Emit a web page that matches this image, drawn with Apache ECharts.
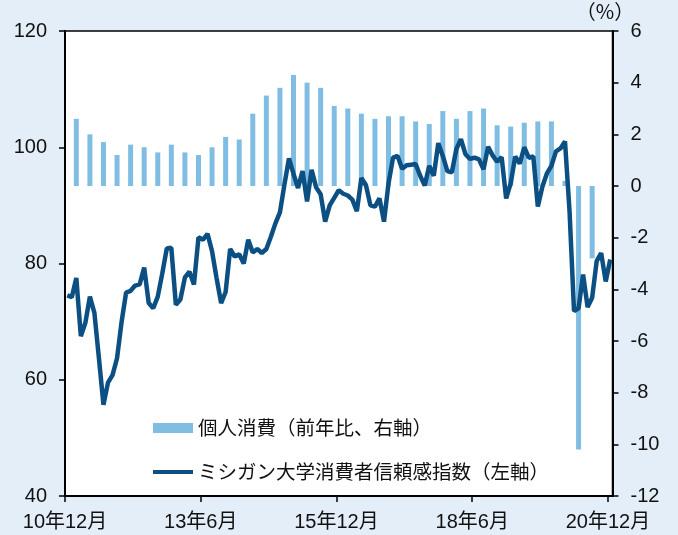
<!DOCTYPE html>
<html>
<head>
<meta charset="utf-8">
<script src="https://cdn.jsdelivr.net/npm/echarts@6/dist/echarts.min.js"></script>
<style>
    html, body { margin: 0; padding: 0; background: #e3eef8; }
    #chart { width: 678px; height: 535px; }
</style>
</head>
<body>
<div id="chart"></div>
<script>
// ミシガン大学消費者信頼感指数 (月次, 10年12月〜20年12月)
var sentiment = [
    74.5,
    74.2, 77.5, 67.5, 69.8, 74.3, 71.5, 63.7, 55.7, 59.5, 60.8, 63.7, 69.9,
    75.0, 75.3, 76.2, 76.4, 79.3, 73.2, 72.3, 74.3, 78.3, 82.6, 82.7, 72.9,
    73.8, 77.6, 78.6, 76.4, 84.5, 84.1, 85.1, 82.1, 77.5, 73.2, 75.1, 82.5,
    81.2, 81.6, 80.0, 84.1, 81.9, 82.5, 81.8, 82.5, 84.6, 86.9, 88.8, 93.6,
    98.1, 95.4, 93.0, 95.9, 90.7, 96.1, 93.1, 91.9, 87.2, 90.0, 91.3, 92.6,
    92.0, 91.7, 91.0, 89.0, 94.7, 93.5, 90.0, 89.8, 91.2, 87.2, 93.8, 98.2,
    98.5, 96.3, 96.9, 97.0, 97.1, 95.1, 93.4, 96.8, 95.1, 100.7, 98.5, 95.9,
    95.7, 99.7, 101.4, 98.8, 98.0, 98.2, 97.9, 96.2, 100.1, 98.6, 97.5, 98.3,
    91.2, 93.8, 98.4, 97.2, 100.0, 98.2, 98.4, 89.8, 93.2, 95.5, 96.8, 99.3,
    99.8, 101.0, 89.1, 71.8, 72.3, 78.1, 72.5, 74.1, 80.4, 81.8, 76.9, 80.7
];

// 個人消費 前年比 (四半期, 11年1-3月〜20年7-9月)
var consumption = [
    2.6, 2.0, 1.7, 1.2,
    1.6, 1.5, 1.3, 1.6,
    1.3, 1.2, 1.5, 1.9,
    1.8, 2.8, 3.5, 3.8,
    4.3, 4.0, 3.8, 3.1,
    3.0, 2.8, 2.6, 2.7,
    2.7, 2.5, 2.4, 2.9,
    2.6, 2.9, 3.0, 2.35,
    2.3, 2.45, 2.5, 2.5,
    0.2, -10.2, -2.8
];

var tickLabels = ['10年12月', '13年6月', '15年12月', '18年6月', '20年12月'];
var tickMonths = [0, 30, 60, 90, 120];

var barName = '個人消費（前年比、右軸）';
var lineName = 'ミシガン大学消費者信頼感指数（左軸）';

var lineData = sentiment.map(function (v, i) { return [i + 0.5, v]; });
var barData = consumption.map(function (v, q) { return [q * 3 + 2.5, v]; });

var chart = echarts.init(document.getElementById('chart'));
var labelFont = { color: '#111', fontSize: 20, fontFamily: 'Liberation Sans, Noto Sans CJK JP' };
var legendFont = { color: '#111', fontSize: 19.5, lineHeight: 22, fontFamily: 'Noto Sans CJK JP' };

chart.setOption({
    backgroundColor: '#e3eef8',
    animation: false,
    grid: {
        left: 65, right: 65.5, top: 31, bottom: 39,
        show: true,
        backgroundColor: '#fff',
        borderColor: '#000',
        borderWidth: 1.5
    },
    legend: [{
        data: [barName],
        left: 153, top: 417,
        padding: 0,
        icon: 'rect',
        itemWidth: 40, itemHeight: 10,
        textStyle: legendFont
    }, {
        data: [lineName],
        left: 153, top: 461,
        padding: 0,
        icon: 'rect',
        itemWidth: 40, itemHeight: 4,
        textStyle: legendFont
    }],
    xAxis: {
        type: 'value',
        min: 0, max: 121, interval: 30,
        splitLine: { show: false },
        axisLine: { onZero: false, lineStyle: { color: '#000', width: 2 } },
        axisTick: { length: 6, lineStyle: { color: '#000', width: 1.5 }, customValues: tickMonths },
        axisLabel: Object.assign({
            margin: 16,
            customValues: tickMonths,
            formatter: function (v) {
                var k = tickMonths.indexOf(v);
                return k >= 0 ? tickLabels[k] : '';
            }
        }, labelFont)
    },
    yAxis: [{
        type: 'value',
        position: 'left',
        min: 40, max: 120, interval: 20,
        splitLine: { show: false },
        axisLine: { show: true, onZero: false, lineStyle: { color: '#000', width: 2 } },
        axisTick: { show: true, length: 6, lineStyle: { color: '#000', width: 1.5 } },
        axisLabel: Object.assign({ margin: 18 }, labelFont)
    }, {
        type: 'value',
        position: 'right',
        min: -12, max: 6, interval: 2,
        name: '（%）',
        nameLocation: 'end',
        nameGap: 7,
        nameTextStyle: { color: '#111', fontSize: 20, fontFamily: 'Noto Sans CJK JP', padding: [0, 15, 0, 0] },
        splitLine: { show: false },
        axisLine: { show: true, onZero: false, lineStyle: { color: '#000', width: 2 } },
        axisTick: { show: true, length: 6, lineStyle: { color: '#000', width: 1.5 } },
        axisLabel: Object.assign({ margin: 18 }, labelFont)
    }],
    series: [{
        name: barName,
        type: 'bar',
        yAxisIndex: 1,
        barWidth: 5,
        itemStyle: { color: '#80bde3' },
        data: barData
    }, {
        name: lineName,
        type: 'line',
        yAxisIndex: 0,
        symbol: 'none',
        lineStyle: { color: '#0c4f82', width: 4.5 },
        itemStyle: { color: '#0c4f82' },
        data: lineData
    }]
});
</script>
</body>
</html>
